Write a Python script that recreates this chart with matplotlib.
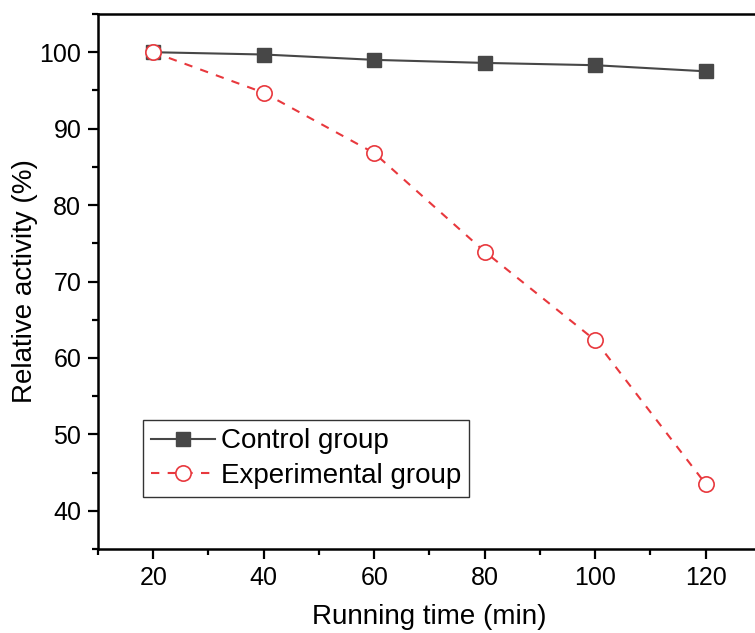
import matplotlib.pyplot as plt
from matplotlib.ticker import MultipleLocator

plt.rcParams['font.family'] = ['Liberation Sans', 'DejaVu Sans']

# data
time_min = [20, 40, 60, 80, 100, 120]
control = [100, 99.7, 99.0, 98.6, 98.3, 97.5]
experimental = [100, 94.7, 86.8, 73.9, 62.3, 43.5]

fig = plt.figure(figsize=(7.55, 6.33), dpi=100)
# axes runs a bit past the right edge, as in the original
ax = fig.add_axes([98/755, (633-549)/633, 663/755, 535/633])

ax.plot(time_min, control, color='#474747', lw=1.5, marker='s', ms=10,
        mfc='#474747', mec='#474747', label='Control group', zorder=3)
ax.plot(time_min, experimental, color='#e8383d', lw=1.5, ls=(0, (4, 4)), marker='o', ms=11,
        mfc='white', mec='#e8383d', mew=1.2, label='Experimental group', zorder=4)

ax.set_xlim(10, 130)
ax.set_ylim(35, 105)
ax.xaxis.set_major_locator(MultipleLocator(20))
ax.xaxis.set_minor_locator(MultipleLocator(10))
ax.yaxis.set_major_locator(MultipleLocator(10))
ax.yaxis.set_minor_locator(MultipleLocator(5))
ax.set_xticks([20, 40, 60, 80, 100, 120])
ax.tick_params(which='major', direction='out', length=7, width=1.6, labelsize=18, pad=5)
ax.tick_params(which='minor', direction='out', length=4, width=1.6)
for s in ax.spines.values():
    s.set_linewidth(1.8)

ax.set_xlabel('Running time (min)', fontsize=20, labelpad=10)
ax.set_ylabel('Relative activity (%)', fontsize=20, labelpad=1)

leg = ax.legend(loc='lower left', bbox_to_anchor=(0.068, 0.097), fontsize=20,
                fancybox=False, edgecolor='#333333', framealpha=1,
                handlelength=2.3, handletextpad=0.2, borderpad=0.3, labelspacing=0.3,
                borderaxespad=0)
leg.get_frame().set_linewidth(1.0)
leg._legend_box.align = 'left'

fig.savefig('out.png', dpi=100)
